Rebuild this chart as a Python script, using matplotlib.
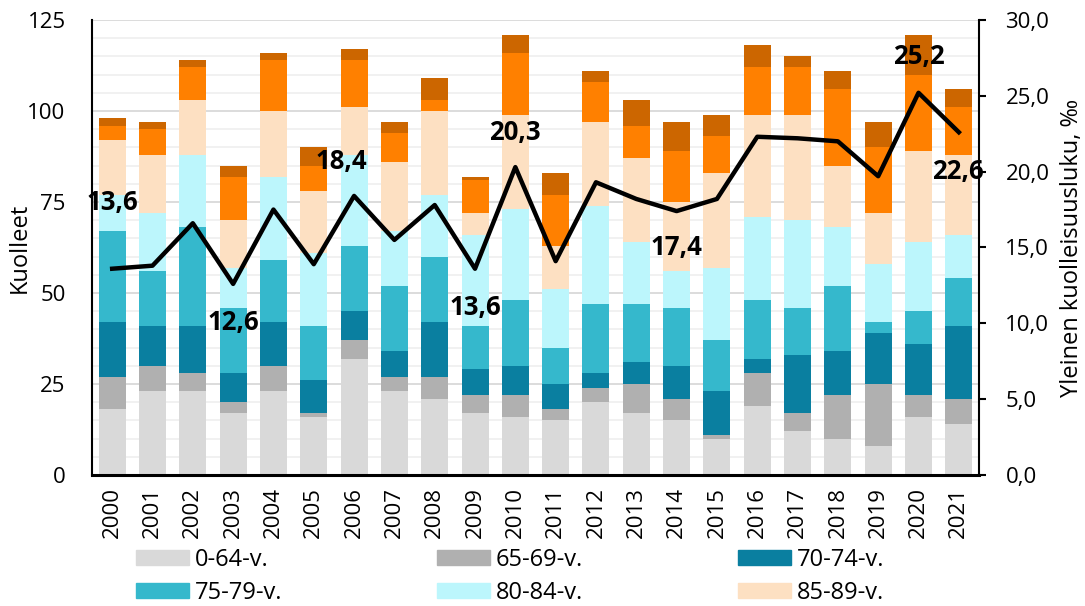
import numpy as np
import matplotlib
matplotlib.use('Agg')
import matplotlib.pyplot as plt
from matplotlib.patches import Patch
from matplotlib.ticker import MultipleLocator, FuncFormatter

plt.rcParams['font.family'] = ['Open Sans', 'DejaVu Sans']
plt.rcParams['font.size'] = 16

# vuodet ja kuolleet ikaryhmittain
years = [str(y) for y in range(2000, 2022)]
ika_0_64 = [18, 23, 23, 17, 23, 16, 32, 23, 21, 17, 16, 15, 20, 17, 15, 10, 19, 12, 10, 8, 16, 14]
ika_65_69 = [9, 7, 5, 3, 7, 1, 5, 4, 6, 5, 6, 3, 4, 8, 6, 1, 9, 5, 12, 17, 6, 7]
ika_70_74 = [15, 11, 13, 8, 12, 9, 8, 7, 15, 7, 8, 7, 4, 6, 9, 12, 4, 16, 12, 14, 14, 20]
ika_75_79 = [25, 15, 27, 18, 17, 15, 18, 18, 18, 12, 18, 10, 19, 16, 16, 14, 16, 13, 18, 3, 9, 13]
ika_80_84 = [10, 16, 20, 11, 23, 20, 25, 15, 17, 25, 25, 16, 27, 17, 10, 20, 23, 24, 16, 16, 19, 12]
ika_85_89 = [15, 16, 15, 13, 18, 17, 13, 19, 23, 6, 26, 12, 23, 23, 19, 26, 28, 29, 17, 14, 25, 22]
ika_90_94 = [4, 7, 9, 12, 14, 7, 13, 8, 3, 9, 17, 14, 11, 9, 14, 10, 13, 13, 21, 18, 21, 13]
ika_95 = [2, 2, 2, 3, 2, 5, 3, 3, 6, 1, 5, 6, 3, 7, 8, 6, 6, 3, 5, 7, 11, 5]

# yleinen kuolleisuusluku (promillea)
kuolleisuus = [13.6, 13.8, 16.6, 12.6, 17.5, 13.9, 18.4, 15.5, 17.8, 13.6, 20.3,
               14.1, 19.3, 18.2, 17.4, 18.2, 22.3, 22.2, 22.0, 19.7, 25.2, 22.6]

series = [ika_0_64, ika_65_69, ika_70_74, ika_75_79, ika_80_84, ika_85_89, ika_90_94, ika_95]
names = ['0-64-v.', '65-69-v.', '70-74-v.', '75-79-v.', '80-84-v.', '85-89-v.', '90-94-v.', '95+-v.']
colors = ['#d9d9d9', '#b0b0b0', '#0a7fa0', '#35b8cc', '#bcf6fc', '#fde0c2', '#ff8000', '#cc6600']

# arvot jotka naytetaan kuvassa: vuoden indeksi ja siirto pisteina
label_idx = [0, 3, 6, 9, 10, 14, 20, 21]
label_off = [(0, 48), (0, -28), (-9, 25), (0, -28), (0, 25), (0, -26), (0, 26), (-1, -28)]

fig = plt.figure(figsize=(10.85, 6.06), dpi=100)
ax = fig.add_axes([0.0848, 0.2162, 0.8175, 0.7508])

x = np.arange(len(years))
bottom = np.zeros(len(years))
for vals, name, col in zip(series, names, colors):
    ax.bar(x, vals, width=0.67, bottom=bottom, color=col, label=name, zorder=2)
    bottom += np.array(vals)

ax.set_xlim(-0.5, len(years) - 0.5)
ax.set_ylim(0, 125)
ax.yaxis.set_major_locator(MultipleLocator(25))
ax.yaxis.set_minor_locator(MultipleLocator(5))
ax.grid(which='major', axis='y', color='#d9d9d9', lw=1.3, zorder=0)
ax.grid(which='minor', axis='y', color='#f0f0f0', lw=1.3, zorder=0)
ax.set_axisbelow(True)
ax.set_xticks(x)
ax.set_xticklabels(years, rotation=90)
ax.tick_params(axis='x', length=0, pad=9)
ax.tick_params(axis='y', which='both', length=0, pad=19)
ax.set_ylabel('Kuolleet', labelpad=-3, fontsize=17)
for s in ['top', 'right']:
    ax.spines[s].set_visible(False)
ax.spines['left'].set_linewidth(1.5)
ax.spines['bottom'].set_linewidth(2.2)

ax2 = ax.twinx()
ax2.plot(x, kuolleisuus, color='black', lw=3.2, zorder=5)
ax2.set_ylim(0, 30)
ax2.yaxis.set_major_locator(MultipleLocator(5))
ax2.yaxis.set_major_formatter(FuncFormatter(lambda v, p: f'{v:.1f}'.replace('.', ',')))
ax2.tick_params(axis='y', length=5, width=1.5, pad=14)
ax2.set_ylabel('Yleinen kuolleisuusluku, ‰', labelpad=8, fontsize=17)
for s in ['top', 'left', 'bottom']:
    ax2.spines[s].set_visible(False)
ax2.spines['right'].set_linewidth(1.5)

for i, off in zip(label_idx, label_off):
    ax2.annotate(f'{kuolleisuus[i]:.1f}'.replace('.', ','), (x[i], kuolleisuus[i]),
                 xytext=off, textcoords='offset points', ha='center', va='center',
                 fontweight='bold', fontsize=18.5, zorder=6)

handles = [Patch(color=c, label=n) for c, n in zip(colors[:6], names[:6])]
order = [0, 3, 1, 4, 2, 5]
fig.legend([handles[i] for i in order], [names[i] for i in order], ncol=3,
           loc='upper left', bbox_to_anchor=(0.125, 0.096, 0.69, 0.0), mode='expand',
           frameon=False, borderpad=0, borderaxespad=0, handlelength=2.25,
           handleheight=0.66, handletextpad=0.25, labelspacing=0.38, fontsize=17)

fig.savefig('out.png', dpi=100)
